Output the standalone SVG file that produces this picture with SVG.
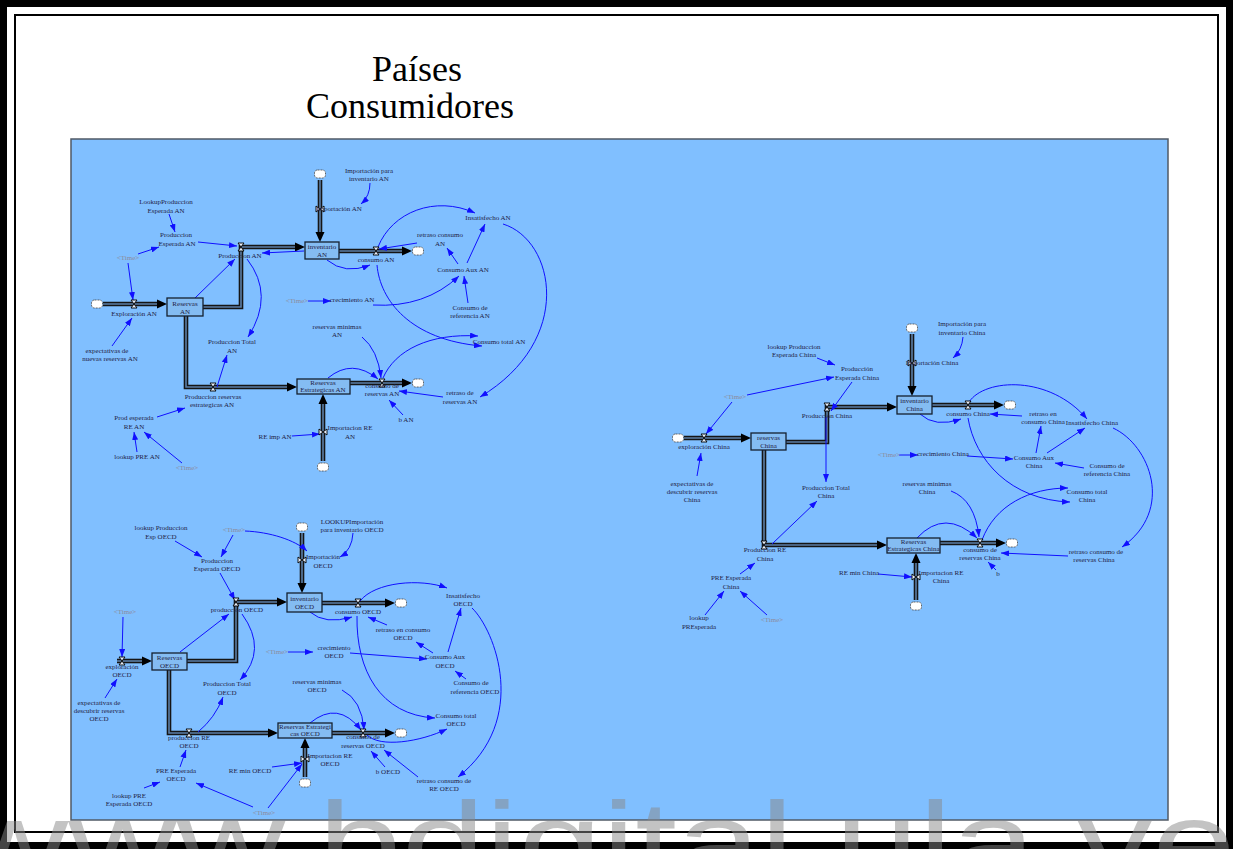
<svg xmlns="http://www.w3.org/2000/svg" width="1233" height="849" viewBox="0 0 1233 849">
<defs>
<style>
.t{font-family:"Liberation Serif","Times New Roman",serif;font-size:7px;fill:#1f2245;text-anchor:middle}
.g{fill:#8c8c9c}
.ti{font-family:"Liberation Serif","Times New Roman",serif;font-size:36px;fill:#000;text-anchor:middle}
.i{fill:none;stroke:#1010ff;stroke-width:1;marker-end:url(#ab)}
.po{fill:none;stroke:#151515;stroke-width:4.6;marker-end:url(#ap)}
.pi{fill:none;stroke:#5b7ea6;stroke-width:1.6}
.s{fill:#84bcf2;stroke:#15202e;stroke-width:1.3}
</style>
<marker id="ab" markerUnits="userSpaceOnUse" markerWidth="8" markerHeight="6" refX="8" refY="3" orient="auto"><path d="M0,0L8,3L0,6z" fill="#1010ff"/></marker>
<marker id="ap" markerUnits="userSpaceOnUse" markerWidth="10" markerHeight="10" refX="0" refY="5" orient="auto"><path d="M0,0.5L10,5L0,9.5z" fill="#000"/></marker>
<g id="vh"><path d="M-3,-4H3L-3,4H3Z" fill="#e8eef8" stroke="#000" stroke-width="0.9"/></g>
<g id="vv"><path d="M-4,-3V3L4,-3V3Z" fill="#e8eef8" stroke="#000" stroke-width="0.9"/></g>
<g id="cl"><rect x="-5.5" y="-4" width="11" height="8" rx="3" fill="#fff" stroke="#444" stroke-width="0.8" stroke-dasharray="2,1"/></g>
</defs>
<rect x="0" y="0" width="1233" height="849" fill="#fff"/>
<rect x="3.5" y="3.5" width="1226" height="842" fill="none" stroke="#000" stroke-width="7"/>
<rect x="15" y="15" width="1203" height="817" fill="none" stroke="#000" stroke-width="2"/>
<g id="title"><text class="ti" x="417" y="81">Países</text><text class="ti" x="410" y="118">Consumidores</text></g>
<rect id="panel" x="71" y="139" width="1097" height="681" fill="#80bfff" stroke="#505a66" stroke-width="1.5"/>

<g id="connectors">
<path class="po" d="M103,304H157"/><path class="pi" d="M103,304H157"/>
<path class="po" d="M203,307H241V247H295"/><path class="pi" d="M203,307H241V247H295"/>
<path class="po" d="M320,180V232"/><path class="pi" d="M320,180V232"/>
<path class="po" d="M339,251H402"/><path class="pi" d="M339,251H402"/>
<path class="po" d="M186,316V387H287"/><path class="pi" d="M186,316V387H287"/>
<path class="po" d="M350,383H402"/><path class="pi" d="M350,383H402"/>
<path class="po" d="M323,461V404"/><path class="pi" d="M323,461V404"/>
<path class="po" d="M117,661H142"/><path class="pi" d="M117,661H142"/>
<path class="po" d="M187,661H236V602H277"/><path class="pi" d="M187,661H236V602H277"/>
<path class="po" d="M302,533V583"/><path class="pi" d="M302,533V583"/>
<path class="po" d="M322,603H385"/><path class="pi" d="M322,603H385"/>
<path class="po" d="M169,670V733H268"/><path class="pi" d="M169,670V733H268"/>
<path class="po" d="M332,733H385"/><path class="pi" d="M332,733H385"/>
<path class="po" d="M305,777V748"/><path class="pi" d="M305,777V748"/>
<path class="po" d="M684,438H741"/><path class="pi" d="M684,438H741"/>
<path class="po" d="M786,442H827V407H887"/><path class="pi" d="M786,442H827V407H887"/>
<path class="po" d="M912,334V386"/><path class="pi" d="M912,334V386"/>
<path class="po" d="M932,405H994"/><path class="pi" d="M932,405H994"/>
<path class="po" d="M764,450V545H877"/><path class="pi" d="M764,450V545H877"/>
<path class="po" d="M940,543H996"/><path class="pi" d="M940,543H996"/>
<path class="po" d="M916,600V563"/><path class="pi" d="M916,600V563"/>

<path class="i" d="M169,214L175,232"/>
<path class="i" d="M198,242L237,246"/>
<path class="i" d="M138,254L159,247"/>
<path class="i" d="M128,263L133,300"/>
<path class="i" d="M195,298L235,259"/>
<path class="i" d="M304,251L262,253"/>
<path class="i" d="M247,259Q275,295 248,337"/>
<path class="i" d="M112,346L132,318"/>
<path class="i" d="M370,183Q370,196 361,204"/>
<path class="i" d="M327,260Q345,275 370,265"/>
<path class="i" d="M417,243L379,249"/>
<path class="i" d="M378,247C392,212 435,195 475,213"/>
<path class="i" d="M458,264L447,248"/>
<path class="i" d="M467,263L485,224"/>
<path class="i" d="M308,301L331,301"/>
<path class="i" d="M373,305Q425,308 459,276"/>
<path class="i" d="M468,303L464,276"/>
<path class="i" d="M503,224C555,240 575,340 480,397"/>
<path class="i" d="M377,265C380,300 410,340 482,346"/>
<path class="i" d="M362,337Q378,350 381,378"/>
<path class="i" d="M328,378Q352,358 378,379"/>
<path class="i" d="M383,378C395,350 430,333 478,336"/>
<path class="i" d="M443,397L399,391"/>
<path class="i" d="M403,415L389,400"/>
<path class="i" d="M217,387L227,355"/>
<path class="i" d="M157,417L185,408"/>
<path class="i" d="M137,452L134,432"/>
<path class="i" d="M182,463L144,432"/>
<path class="i" d="M292,436L320,434"/>
<path class="i" d="M175,541L202,557"/>
<path class="i" d="M233,535L221,557"/>
<path class="i" d="M245,531C270,532 295,540 307,551"/>
<path class="i" d="M220,573L235,600"/>
<path class="i" d="M123,617L122,657"/>
<path class="i" d="M180,652L229,614"/>
<path class="i" d="M242,614Q268,650 240,680"/>
<path class="i" d="M105,698L117,679"/>
<path class="i" d="M353,533Q352,550 340,557"/>
<path class="i" d="M310,612Q325,625 352,617"/>
<path class="i" d="M360,601C375,582 420,578 447,588"/>
<path class="i" d="M387,625L368,617"/>
<path class="i" d="M433,653L416,642"/>
<path class="i" d="M448,652L461,608"/>
<path class="i" d="M288,652L313,652"/>
<path class="i" d="M350,653L427,659"/>
<path class="i" d="M466,679L455,671"/>
<path class="i" d="M357,616C356,670 380,715 435,718"/>
<path class="i" d="M472,608C495,630 530,720 458,777"/>
<path class="i" d="M342,690Q362,700 364,730"/>
<path class="i" d="M310,723Q338,700 361,730"/>
<path class="i" d="M367,735C380,748 420,742 447,729"/>
<path class="i" d="M418,777L384,750"/>
<path class="i" d="M385,767L371,751"/>
<path class="i" d="M198,732Q215,718 223,697"/>
<path class="i" d="M180,767L186,750"/>
<path class="i" d="M144,788L160,782"/>
<path class="i" d="M253,807L196,783"/>
<path class="i" d="M268,808L302,764"/>
<path class="i" d="M272,767L302,763"/>
<path class="i" d="M817,358L835,365"/>
<path class="i" d="M747,395L834,377"/>
<path class="i" d="M732,402L706,434"/>
<path class="i" d="M852,382L831,411"/>
<path class="i" d="M826,417L826,482"/>
<path class="i" d="M697,476L701,453"/>
<path class="i" d="M963,337Q962,350 953,358"/>
<path class="i" d="M920,414Q935,428 961,419"/>
<path class="i" d="M969,402C985,378 1050,375 1087,419"/>
<path class="i" d="M1022,416L990,414"/>
<path class="i" d="M1036,453L1041,426"/>
<path class="i" d="M1047,453L1085,428"/>
<path class="i" d="M899,455L918,455"/>
<path class="i" d="M967,456L1013,459"/>
<path class="i" d="M1084,468L1055,463"/>
<path class="i" d="M968,418C975,460 1010,500 1070,502"/>
<path class="i" d="M1113,428C1150,445 1175,510 1122,547"/>
<path class="i" d="M951,491Q975,500 979,537"/>
<path class="i" d="M917,538Q945,508 977,538"/>
<path class="i" d="M982,540C995,505 1030,488 1068,488"/>
<path class="i" d="M1068,556L1001,553"/>
<path class="i" d="M996,570L988,562"/>
<path class="i" d="M772,544L817,501"/>
<path class="i" d="M740,574L755,563"/>
<path class="i" d="M705,615L724,591"/>
<path class="i" d="M767,615L740,591"/>
<path class="i" d="M878,574L912,577"/>
</g>

<g id="an-reservas"><rect class="s" x="167" y="298" width="36" height="18"/><text class="t" x="185" y="306">Reservas</text><text class="t" x="185" y="314">AN</text></g>
<g id="an-inventario"><rect class="s" x="305" y="242" width="34" height="17"/><text class="t" x="322" y="249">inventario</text><text class="t" x="322" y="257">AN</text></g>
<g id="an-reservasest"><rect class="s" x="297" y="379" width="53" height="15"/><text class="t" x="323" y="385">Reservas</text><text class="t" x="323" y="392">Estrategicas AN</text></g>
<g id="an-exploracion"><use href="#cl" x="97" y="304"/><use href="#vh" x="134" y="304"/><text class="t" x="134" y="316">Exploración AN</text></g>
<g id="an-produccion"><use href="#vh" x="241" y="247"/><text class="t" x="240" y="258">Produccion AN</text></g>
<g id="an-importacion"><use href="#cl" x="320" y="174"/><use href="#vv" x="320" y="209"/><text class="t" x="339" y="211">Importación AN</text></g>
<g id="an-consumo"><use href="#vh" x="376" y="251"/><use href="#cl" x="418" y="251"/><text class="t" x="376" y="262">consumo AN</text></g>
<g id="an-prodres"><use href="#vh" x="213" y="387"/><text class="t" x="213" y="399">Produccion reservas</text><text class="t" x="212" y="407">estrategicas AN</text></g>
<g id="an-consres"><use href="#vh" x="382" y="383"/><use href="#cl" x="418" y="383"/><text class="t" x="382" y="388">consumo de</text><text class="t" x="382" y="396">reservas AN</text></g>
<g id="an-impre"><use href="#cl" x="323" y="467"/><use href="#vv" x="323" y="432"/><text class="t" x="350" y="430">Importacion RE</text><text class="t" x="350" y="439">AN</text></g>
<g id="an-lookupprod"><text class="t" x="166" y="204">LookupProduccion</text><text class="t" x="166" y="213">Esperada AN</text></g>
<g id="an-prodesp"><text class="t" x="176" y="237">Produccion</text><text class="t" x="177" y="246">Esperada AN</text></g>
<g id="an-time1"><text class="t g" x="128" y="260">&lt;Time&gt;</text></g>
<g id="an-time2"><text class="t g" x="297" y="303">&lt;Time&gt;</text></g>
<g id="an-time3"><text class="t g" x="187" y="470">&lt;Time&gt;</text></g>
<g id="an-crec"><text class="t" x="352" y="302">crecimiento AN</text></g>
<g id="an-imppara"><text class="t" x="369" y="173">Importación para</text><text class="t" x="369" y="181">inventario AN</text></g>
<g id="an-retraso"><text class="t" x="440" y="237">retraso consumo</text><text class="t" x="440" y="246">AN</text></g>
<g id="an-insat"><text class="t" x="488" y="220">Insatisfecho AN</text></g>
<g id="an-aux"><text class="t" x="463" y="272">Consumo Aux AN</text></g>
<g id="an-ref"><text class="t" x="470" y="310">Consumo de</text><text class="t" x="470" y="318">referencia AN</text></g>
<g id="an-prodtotal"><text class="t" x="232" y="344">Produccion Total</text><text class="t" x="232" y="353">AN</text></g>
<g id="an-expect"><text class="t" x="107" y="353">expectativas de</text><text class="t" x="110" y="361">nuevas reservas AN</text></g>
<g id="an-prodespre"><text class="t" x="134" y="420">Prod esperada</text><text class="t" x="134" y="429">RE AN</text></g>
<g id="an-lookuppre"><text class="t" x="137" y="459">lookup PRE AN</text></g>
<g id="an-reimp"><text class="t" x="275" y="439">RE imp AN</text></g>
<g id="an-resmin"><text class="t" x="337" y="329">reservas minimas</text><text class="t" x="337" y="337">AN</text></g>
<g id="an-constotal"><text class="t" x="499" y="344">Consumo total AN</text></g>
<g id="an-retres"><text class="t" x="460" y="395">retraso de</text><text class="t" x="460" y="404">reservas AN</text></g>
<g id="an-b"><text class="t" x="406" y="422">b AN</text></g>

<g id="oe-reservas"><rect class="s" x="152" y="653" width="35" height="17"/><text class="t" x="169.5" y="660">Reservas</text><text class="t" x="169.5" y="668">OECD</text></g>
<g id="oe-inventario"><rect class="s" x="287" y="593" width="35" height="19"/><text class="t" x="304.5" y="601">inventario</text><text class="t" x="304.5" y="609">OECD</text></g>
<g id="oe-reservasest"><rect class="s" x="278" y="723" width="54" height="15"/><text class="t" x="305" y="729">Reservas Estrategi</text><text class="t" x="305" y="736">cas OECD</text></g>
<g id="oe-exploracion"><use href="#vh" x="122" y="661"/><text class="t" x="122" y="669">exploración</text><text class="t" x="122" y="677">OECD</text></g>
<g id="oe-produccion"><use href="#vh" x="236" y="602"/><text class="t" x="237" y="612">produccion OECD</text></g>
<g id="oe-importacion"><use href="#cl" x="302" y="527"/><use href="#vv" x="302" y="560"/><text class="t" x="323" y="559">Importación</text><text class="t" x="323" y="568">OECD</text></g>
<g id="oe-consumo"><use href="#vh" x="358" y="603"/><use href="#cl" x="401" y="603"/><text class="t" x="358" y="614">consumo OECD</text></g>
<g id="oe-prodre"><use href="#vh" x="189" y="733"/><text class="t" x="189" y="740">produccion RE</text><text class="t" x="189" y="748">OECD</text></g>
<g id="oe-consres"><use href="#vh" x="363" y="733"/><use href="#cl" x="401" y="733"/><text class="t" x="363" y="739">consumo de</text><text class="t" x="363" y="748">reservas OECD</text></g>
<g id="oe-impre"><use href="#cl" x="305" y="783"/><use href="#vv" x="305" y="759"/><text class="t" x="330" y="758">Importacion RE</text><text class="t" x="330" y="766">OECD</text></g>
<g id="oe-lookupprod"><text class="t" x="161" y="530">lookup Produccion</text><text class="t" x="161" y="539">Esp OECD</text></g>
<g id="oe-time1"><text class="t g" x="234" y="532">&lt;Time&gt;</text></g>
<g id="oe-time2"><text class="t g" x="125" y="614">&lt;Time&gt;</text></g>
<g id="oe-time3"><text class="t g" x="277" y="654">&lt;Time&gt;</text></g>
<g id="oe-time4"><text class="t g" x="264" y="815">&lt;Time&gt;</text></g>
<g id="oe-prodesp"><text class="t" x="217" y="563">Produccion</text><text class="t" x="217" y="571">Esperada OECD</text></g>
<g id="oe-lookupimp"><text class="t" x="352" y="524">LOOKUPImportación</text><text class="t" x="352" y="532">para inventario OECD</text></g>
<g id="oe-insat"><text class="t" x="463" y="598">Insatisfecho</text><text class="t" x="463" y="606">OECD</text></g>
<g id="oe-retraso"><text class="t" x="403" y="632">retraso en consumo</text><text class="t" x="403" y="640">OECD</text></g>
<g id="oe-aux"><text class="t" x="445" y="659">Consumo Aux</text><text class="t" x="445" y="668">OECD</text></g>
<g id="oe-crec"><text class="t" x="334" y="650">crecimiento</text><text class="t" x="334" y="658">OECD</text></g>
<g id="oe-ref"><text class="t" x="471" y="685">Consumo de</text><text class="t" x="475" y="694">referencia OECD</text></g>
<g id="oe-prodtotal"><text class="t" x="227" y="686">Produccion Total</text><text class="t" x="227" y="695">OECD</text></g>
<g id="oe-expect"><text class="t" x="99" y="705">expectativas de</text><text class="t" x="99" y="713">descubrir reservas</text><text class="t" x="99" y="721">OECD</text></g>
<g id="oe-resmin"><text class="t" x="317" y="684">reservas minimas</text><text class="t" x="317" y="692">OECD</text></g>
<g id="oe-constotal"><text class="t" x="456" y="718">Consumo total</text><text class="t" x="456" y="726">OECD</text></g>
<g id="oe-remin"><text class="t" x="250" y="773">RE min OECD</text></g>
<g id="oe-preesp"><text class="t" x="176" y="773">PRE Esperada</text><text class="t" x="176" y="781">OECD</text></g>
<g id="oe-lookuppre"><text class="t" x="129" y="798">lookup PRE</text><text class="t" x="129" y="806">Esperada OECD</text></g>
<g id="oe-b"><text class="t" x="388" y="774">b OECD</text></g>
<g id="oe-retres"><text class="t" x="444" y="783">retraso consumo de</text><text class="t" x="444" y="791">RE OECD</text></g>

<g id="ch-reservas"><rect class="s" x="751" y="433" width="35" height="17"/><text class="t" x="768.5" y="440">reservas</text><text class="t" x="768.5" y="448">China</text></g>
<g id="ch-inventario"><rect class="s" x="897" y="396" width="35" height="18"/><text class="t" x="914.5" y="403">inventario</text><text class="t" x="914.5" y="411">China</text></g>
<g id="ch-reservasest"><rect class="s" x="887" y="538" width="53" height="15"/><text class="t" x="913.5" y="544">Reservas</text><text class="t" x="913.5" y="551">Estrategicas China</text></g>
<g id="ch-exploracion"><use href="#cl" x="678" y="438"/><use href="#vh" x="704" y="438"/><text class="t" x="704" y="449">exploración China</text></g>
<g id="ch-produccion"><use href="#vh" x="827" y="407"/><text class="t" x="827" y="418">Produccion China</text></g>
<g id="ch-importacion"><use href="#cl" x="912" y="328"/><use href="#vv" x="912" y="363"/><text class="t" x="932" y="365">Importación China</text></g>
<g id="ch-consumo"><use href="#vh" x="968" y="405"/><use href="#cl" x="1010" y="405"/><text class="t" x="968" y="416">consumo China</text></g>
<g id="ch-prodre"><use href="#vh" x="764" y="545"/><text class="t" x="765" y="552">Produccion RE</text><text class="t" x="765" y="561">China</text></g>
<g id="ch-consres"><use href="#vh" x="980" y="543"/><use href="#cl" x="1012" y="543"/><text class="t" x="980" y="552">consumo de</text><text class="t" x="980" y="560">reservas China</text></g>
<g id="ch-impre"><use href="#cl" x="916" y="606"/><use href="#vv" x="916" y="577"/><text class="t" x="941" y="575">Importacion RE</text><text class="t" x="941" y="583">China</text></g>
<g id="ch-lookupprod"><text class="t" x="794" y="349">lookup Produccion</text><text class="t" x="794" y="357">Esperada China</text></g>
<g id="ch-prodesp"><text class="t" x="857" y="371">Producción</text><text class="t" x="857" y="380">Esperada China</text></g>
<g id="ch-time1"><text class="t g" x="735" y="399">&lt;Time&gt;</text></g>
<g id="ch-time2"><text class="t g" x="889" y="457">&lt;Time&gt;</text></g>
<g id="ch-time3"><text class="t g" x="772" y="622">&lt;Time&gt;</text></g>
<g id="ch-imppara"><text class="t" x="962" y="326">Importación para</text><text class="t" x="962" y="335">inventario China</text></g>
<g id="ch-retraso"><text class="t" x="1043" y="416">retraso en</text><text class="t" x="1043" y="424">consumo China</text></g>
<g id="ch-insat"><text class="t" x="1092" y="425">Insatisfecho China</text></g>
<g id="ch-aux"><text class="t" x="1034" y="460">Consumo Aux</text><text class="t" x="1034" y="468">China</text></g>
<g id="ch-crec"><text class="t" x="943" y="456">crecimiento China</text></g>
<g id="ch-ref"><text class="t" x="1107" y="468">Consumo de</text><text class="t" x="1107" y="476">referencia China</text></g>
<g id="ch-expect"><text class="t" x="692" y="486">expectativas de</text><text class="t" x="692" y="494">descubrir reservas</text><text class="t" x="692" y="502">China</text></g>
<g id="ch-prodtotal"><text class="t" x="826" y="490">Produccion Total</text><text class="t" x="826" y="498">China</text></g>
<g id="ch-resmin"><text class="t" x="927" y="486">reservas minimas</text><text class="t" x="927" y="494">China</text></g>
<g id="ch-constotal"><text class="t" x="1087" y="494">Consumo total</text><text class="t" x="1087" y="502">China</text></g>
<g id="ch-remin"><text class="t" x="859" y="575">RE min China</text></g>
<g id="ch-retres"><text class="t" x="1096" y="554">retraso consumo de</text><text class="t" x="1094" y="562">reservas China</text></g>
<g id="ch-b"><text class="t" x="998" y="576">b</text></g>
<g id="ch-preesp"><text class="t" x="731" y="580">PRE Esperada</text><text class="t" x="731" y="589">China</text></g>
<g id="ch-lookuppre"><text class="t" x="699" y="620">lookup</text><text class="t" x="699" y="629">PREsperada</text></g>

<g id="watermark"><text transform="translate(-40,882) scale(1,0.77)" x="0" y="0" font-family="Liberation Sans, Arial, sans-serif" font-size="150" fill="#888888" fill-opacity="0.5">www.bdigital.ula.ve</text></g>
</svg>
